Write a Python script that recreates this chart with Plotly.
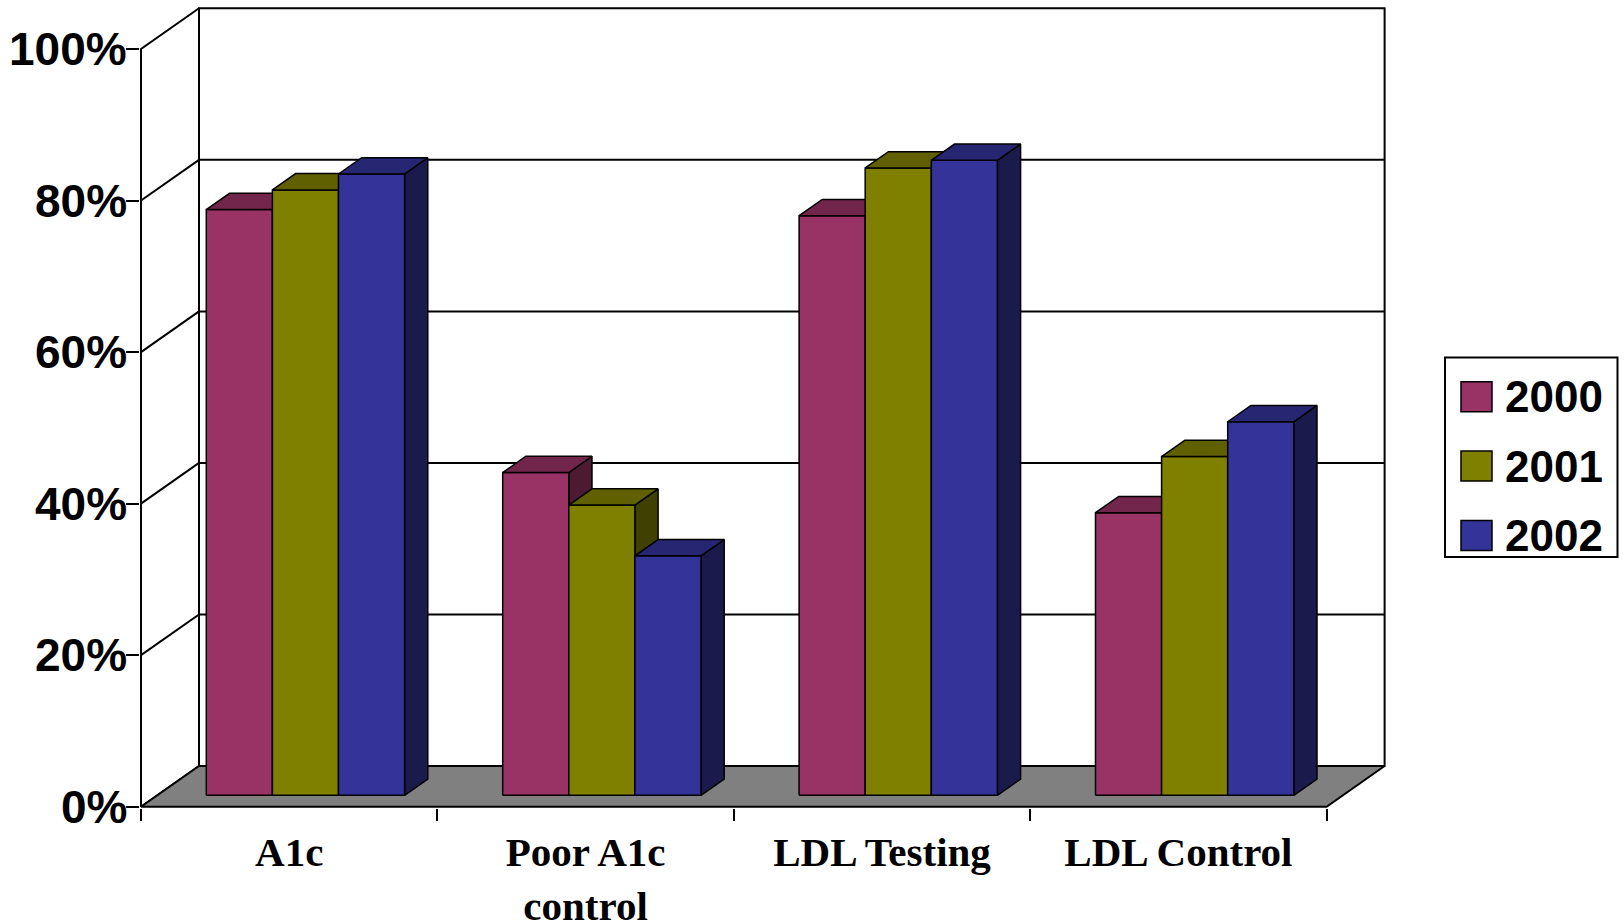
import plotly.graph_objects as go

# ---- data ----
categories = ["A1c", "Poor A1c<br>control", "LDL Testing", "LDL Control"]
years = ["2000", "2001", "2002"]
pct_2000 = [77.3, 42.6, 76.5, 37.3]
pct_2001 = [79.9, 38.3, 82.8, 44.7]
pct_2002 = [82.0, 31.6, 83.8, 49.3]
y_tick_values = [0, 20, 40, 60, 80, 100]
y_tick_labels = ["0%", "20%", "40%", "60%", "80%", "100%"]

series = [pct_2000, pct_2001, pct_2002]
face_colors = ["#993366", "#808000", "#333399"]


def shade(hex_color, k):
    r, g, b = (int(hex_color[i:i + 2], 16) for i in (1, 3, 5))
    return "rgb(%d,%d,%d)" % (round(r * k), round(g * k), round(b * k))


top_colors = [shade(c, 0.75) for c in face_colors]
side_colors = [shade(c, 0.5) for c in face_colors]

# ---- page geometry ----
W, H = 1624, 924
M_L, M_R, M_T, M_B = 140, 236, 5, 116
PLOT_W = W - M_L - M_R
PLOT_H = H - M_T - M_B
PX_PER_CAT = 296.4
PX_PER_PCT = 7.577
ORIGIN_PX = (141.0, 806.7)

x_lo = -(ORIGIN_PX[0] - M_L) / PX_PER_CAT
x_hi = x_lo + PLOT_W / PX_PER_CAT
y_lo = -((H - M_B) - ORIGIN_PX[1]) / PX_PER_PCT
y_hi = y_lo + PLOT_H / PX_PER_PCT

# oblique projection: one full step back in depth shifts 58px right and 40.7px up
DEPTH_DX = 58 / PX_PER_CAT
DEPTH_DY = 40.7 / PX_PER_PCT
BAR_D0, BAR_D1 = 0.28, 0.68
BAR_W = 0.223
N_CAT = len(categories)
GROUP_GAP = (1 - len(series) * BAR_W) / 2


def project(x, y, d):
    return x + d * DEPTH_DX, y + d * DEPTH_DY


def poly_trace(polys, fill=None, width=1.5):
    xs, ys = [], []
    for poly in polys:
        for x, y in list(poly) + [poly[0]]:
            xs.append(x)
            ys.append(y)
        xs.append(None)
        ys.append(None)
    kw = dict(fill="toself", fillcolor=fill) if fill else {}
    return go.Scatter(x=xs, y=ys, mode="lines", line=dict(color="black", width=width),
                      hoverinfo="skip", showlegend=False, **kw)


def line_trace(segments, width=2):
    xs, ys = [], []
    for a, b in segments:
        xs += [a[0], b[0], None]
        ys += [a[1], b[1], None]
    return go.Scatter(x=xs, y=ys, mode="lines", line=dict(color="black", width=width),
                      hoverinfo="skip", showlegend=False)


fig = go.Figure()

y_top = y_tick_values[-1]
# side wall and back wall
fig.add_trace(poly_trace([[(0, 0), (0, y_top), project(0, y_top, 1), project(0, 0, 1)]],
                         fill="white", width=2))
fig.add_trace(poly_trace([[project(0, 0, 1), project(N_CAT, 0, 1),
                           project(N_CAT, y_top, 1), project(0, y_top, 1)]],
                         fill="white", width=2))
# gridlines on both walls
grid_segments = []
for v in y_tick_values[1:-1]:
    grid_segments.append((project(0, v, 1), project(N_CAT, v, 1)))
    grid_segments.append(((0, v), project(0, v, 1)))
fig.add_trace(line_trace(grid_segments, width=2))
# floor
fig.add_trace(poly_trace([[(0, 0), (N_CAT, 0), project(N_CAT, 0, 1), project(0, 0, 1)]],
                         fill="#808080", width=2))
# front value axis
fig.add_trace(line_trace([((0, 0), (0, y_top))], width=2))

# 3-D bars: front, top and right-side faces per series
for j, vals in enumerate(series):
    fronts, tops, sides = [], [], []
    for i, v in enumerate(vals):
        xl = i + GROUP_GAP + j * BAR_W
        xr = xl + BAR_W
        fronts.append([project(xl, 0, BAR_D0), project(xr, 0, BAR_D0),
                       project(xr, v, BAR_D0), project(xl, v, BAR_D0)])
        tops.append([project(xl, v, BAR_D0), project(xr, v, BAR_D0),
                     project(xr, v, BAR_D1), project(xl, v, BAR_D1)])
        sides.append([project(xr, 0, BAR_D0), project(xr, 0, BAR_D1),
                      project(xr, v, BAR_D1), project(xr, v, BAR_D0)])
    fig.add_trace(poly_trace(sides, fill=side_colors[j]))
    fig.add_trace(poly_trace(fronts, fill=face_colors[j]))
    fig.add_trace(poly_trace(tops, fill=top_colors[j]))


# ---- helpers for page-positioned text and legend ----
def paper_x(px):
    return (px - M_L) / PLOT_W


def paper_y(py):
    return (H - M_B - py) / PLOT_H


annotations = []
# value-axis labels, right-aligned just left of the tick marks
for v, lab in zip(y_tick_values, y_tick_labels):
    annotations.append(dict(xref="paper", yref="y", x=paper_x(128.5), y=v,
                            xanchor="right", yanchor="middle", text=lab, showarrow=False,
                            font=dict(family="Liberation Sans", size=46, color="black",
                                      weight="bold")))

shapes = [dict(type="rect", xref="paper", yref="paper",
               x0=paper_x(1445), x1=paper_x(1617.5), y0=paper_y(557), y1=paper_y(357.5),
               line=dict(color="black", width=2), fillcolor="white")]
for j, yr in enumerate(years):
    cy = 396.7 + j * 69.4
    shapes.append(dict(type="rect", xref="paper", yref="paper",
                       x0=paper_x(1461), x1=paper_x(1492), y0=paper_y(cy + 15), y1=paper_y(cy - 15),
                       line=dict(color="black", width=1.5), fillcolor=face_colors[j]))
    annotations.append(dict(xref="paper", yref="paper", x=paper_x(1503), y=paper_y(cy),
                            xanchor="left", yanchor="middle", text=yr, showarrow=False,
                            font=dict(family="Liberation Sans", size=44, color="black",
                                      weight="bold")))

fig.update_layout(
    width=W, height=H, autosize=False,
    margin=dict(l=M_L, r=M_R, t=M_T, b=M_B, pad=0, autoexpand=False),
    paper_bgcolor="white", plot_bgcolor="white",
    showlegend=False,
    shapes=shapes, annotations=annotations,
    xaxis=dict(range=[x_lo, x_hi], showgrid=False, zeroline=False, showline=False,
               automargin=False,
               tickmode="array", tickvals=[i + 0.5 for i in range(N_CAT)], ticktext=categories,
               ticks="outside", ticklen=8, tickcolor="rgba(0,0,0,0)",
               tickfont=dict(family="Liberation Serif", size=41, color="black", weight="bold"),
               minor=dict(tickmode="array", tickvals=list(range(N_CAT + 1)), ticks="outside",
                          ticklen=12, tickwidth=2, tickcolor="black", showgrid=False)),
    yaxis=dict(range=[y_lo, y_hi], showgrid=False, zeroline=False, showline=False,
               automargin=False,
               tickmode="array", tickvals=y_tick_values, showticklabels=False,
               ticks="outside", ticklen=13, tickwidth=2, tickcolor="black"),
)

fig.write_html("out.html")
